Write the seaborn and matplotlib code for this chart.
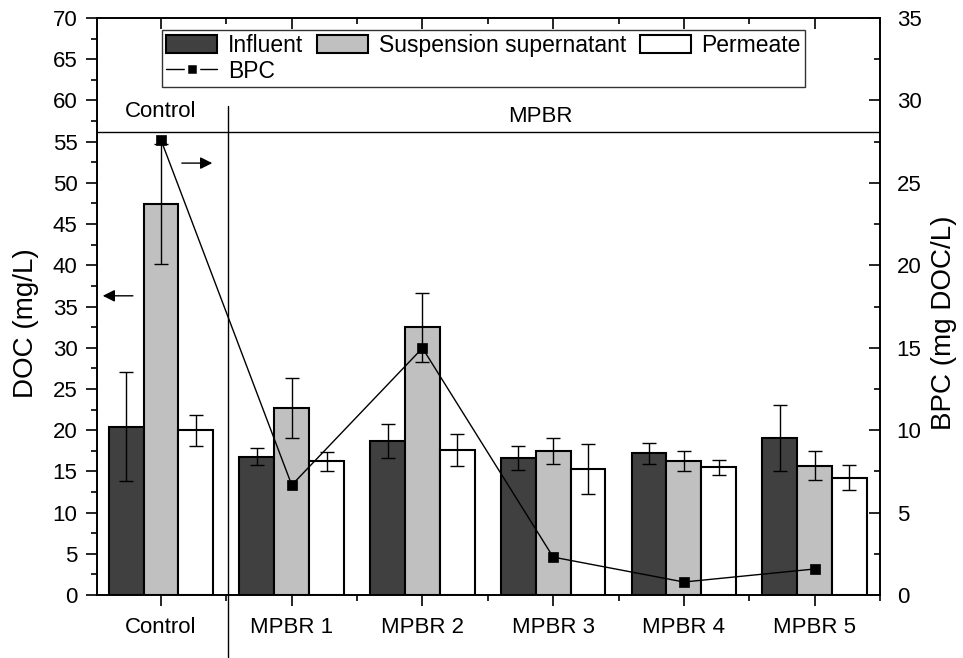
import numpy as np
import pandas as pd
import matplotlib
matplotlib.use("Agg")
import matplotlib.pyplot as plt
import seaborn as sns
from matplotlib.ticker import MultipleLocator, FixedLocator
from matplotlib.patches import Patch
from matplotlib.lines import Line2D

# ---- data ----
categories = ["Control", "MPBR 1", "MPBR 2", "MPBR 3", "MPBR 4", "MPBR 5"]
series = ["Influent", "Suspension supernatant", "Permeate"]
influent = [20.4, 16.8, 18.7, 16.65, 17.2, 19.0]
influent_err = [6.6, 1.0, 2.1, 1.45, 1.3, 4.0]
supernatant = [47.4, 22.7, 32.5, 17.5, 16.25, 15.7]
supernatant_err = [7.3, 3.6, 4.2, 1.6, 1.25, 1.8]
permeate = [20.0, 16.2, 17.6, 15.3, 15.5, 14.25]
permeate_err = [1.9, 1.2, 1.95, 3.0, 0.9, 1.5]
bpc = [27.6, 6.67, 14.98, 2.3, 0.79, 1.58]
colors = ["#404040", "#c0c0c0", "#ffffff"]

values = [influent, supernatant, permeate]
errors = [influent_err, supernatant_err, permeate_err]

df = pd.DataFrame({
    "Sample": categories * 3,
    "Type": [s for s in series for _ in categories],
    "DOC": influent + supernatant + permeate,
})

sns.set_style("ticks")
plt.rcParams["font.family"] = ["Liberation Sans", "DejaVu Sans"]
plt.rcParams["axes.linewidth"] = 1.2
for k in ["text.color", "axes.labelcolor", "xtick.color", "ytick.color",
          "xtick.labelcolor", "ytick.labelcolor", "axes.edgecolor"]:
    plt.rcParams[k] = "black"

fig = plt.figure(figsize=(9.63, 6.58), dpi=100)
ax = fig.add_axes([0.1007, 0.0957, 0.8131, 0.8769])

sns.barplot(data=df, x="Sample", y="DOC", hue="Type", order=categories,
            hue_order=series, palette=colors, edgecolor="black", linewidth=1.5,
            errorbar=None, width=0.8, ax=ax, legend=False, saturation=1)

bar_containers = list(ax.containers)[:3]
for i, cont in enumerate(bar_containers):
    xs = [b.get_x() + b.get_width() / 2 for b in cont.patches]
    ax.errorbar(xs, values[i], yerr=errors[i], fmt="none", ecolor="black",
                elinewidth=1, capsize=5, capthick=1, zorder=5)

ax.set_xlim(-0.49, 5.5)
ax.set_ylim(0, 70)
ax.set_xlabel("")
ax.set_ylabel("DOC (mg/L)", fontsize=20)
ax.yaxis.set_label_coords(-0.074, 0.472)
ax.yaxis.set_major_locator(MultipleLocator(5))
ax.yaxis.set_minor_locator(MultipleLocator(2.5))
ax.xaxis.set_minor_locator(FixedLocator(np.arange(-0.5, 6, 1.0)))
ax.tick_params(axis="x", which="major", direction="out", length=8, width=1.2,
               labelsize=16, top=True, pad=8)
ax.tick_params(axis="x", which="minor", direction="out", length=4, width=1.2, top=True)
ax.tick_params(axis="y", which="major", direction="out", length=8, width=1.2,
               labelsize=16, pad=6)
ax.tick_params(axis="y", which="minor", direction="out", length=4, width=1.2)
for t in ax.xaxis.get_major_ticks() + ax.xaxis.get_minor_ticks():
    t.tick2line.set_marker(3)  # top ticks inward

# decorations
ax.axhline(56.2, color="black", lw=1)
ax.plot([0.513, 0.513], [-7.6, 59.3], color="black", lw=1, clip_on=False)
ax.text(0.0, 58.6, "Control", ha="center", va="center", fontsize=16)
ax.text(2.9, 58.1, "MPBR", ha="center", va="center", fontsize=16)
ax.annotate("", xy=(-0.467, 36.3), xytext=(-0.194, 36.3),
            arrowprops=dict(arrowstyle="-|>", color="black", lw=1, mutation_scale=18))
ax.annotate("", xy=(0.413, 52.4), xytext=(0.138, 52.4),
            arrowprops=dict(arrowstyle="-|>", color="black", lw=1, mutation_scale=18))

ax2 = ax.twinx()
sns.lineplot(x=np.arange(len(categories)), y=bpc, ax=ax2, color="black", lw=1,
             marker="s", markersize=7.5, markerfacecolor="black",
             markeredgecolor="black", markeredgewidth=0.5)
ax2.set_ylim(0, 35)
ax2.set_xlim(-0.49, 5.5)
ax2.set_ylabel("BPC (mg DOC/L)", fontsize=20)
ax2.yaxis.set_label_coords(1.065, 0.472)
ax2.yaxis.set_major_locator(MultipleLocator(5))
ax2.yaxis.set_minor_locator(MultipleLocator(2.5))
ax2.tick_params(axis="y", which="major", direction="in", length=8, width=1.2,
                labelsize=16, pad=12)
ax2.tick_params(axis="y", which="minor", direction="in", length=4, width=1.2)
for s in ax2.spines.values():
    s.set_linewidth(1.2)

handles = [Patch(facecolor=colors[0], edgecolor="black", lw=1.5),
           Line2D([], [], color="black", lw=1, marker="s", markersize=9,
                  markerfacecolor="black", markeredgecolor="white", markeredgewidth=2.5),
           Patch(facecolor=colors[1], edgecolor="black", lw=1.5),
           Patch(facecolor=colors[2], edgecolor="black", lw=1.5)]
labels = ["Influent", "BPC", "Suspension supernatant", "Permeate"]
leg = ax2.legend(handles, labels, ncol=3, loc="upper left",
                 bbox_to_anchor=(0.083, 0.979), fontsize=16.5, frameon=True,
                 fancybox=False, edgecolor="#333333", framealpha=1,
                 handlelength=2.25, handleheight=0.85, handletextpad=0.45,
                 columnspacing=0.6, labelspacing=0.12, borderpad=0.17,
                 borderaxespad=0)
leg.get_frame().set_linewidth(1)

fig.savefig("out.png", dpi=100)
